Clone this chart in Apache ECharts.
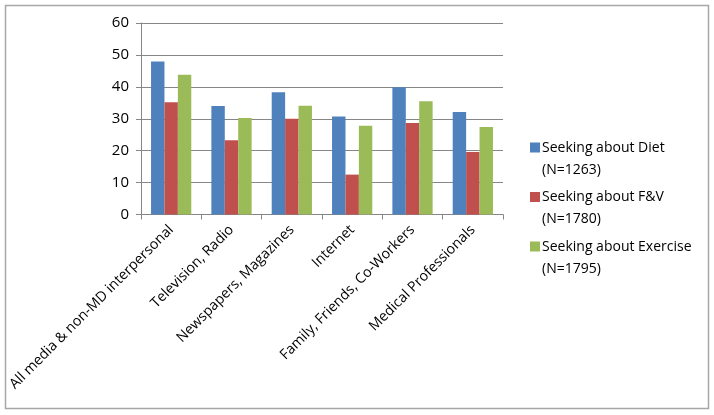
<!DOCTYPE html>
<html><head><meta charset="utf-8">
<script src="https://cdn.jsdelivr.net/npm/echarts@6/dist/echarts.min.js"></script>
<style>html,body{margin:0;padding:0;background:#fff}#c{width:714px;height:415px}</style>
</head><body><div id="c"></div>
<script>
const categories = ["All media & non-MD interpersonal","Television, Radio","Newspapers, Magazines","Internet","Family, Friends, Co-Workers","Medical Professionals"];
const seriesNames = ["Seeking about Diet\n(N=1263)","Seeking about F&V\n(N=1780)","Seeking about Exercise\n(N=1795)"];
const diet = [47.9, 34.0, 38.3, 30.7, 39.9, 32.1];
const fv = [35.2, 23.3, 30.0, 12.5, 28.7, 19.6];
const exercise = [43.8, 30.2, 34.1, 27.8, 35.5, 27.4];
const yTicks = {min: 0, max: 60, interval: 10};
const colors = ["#4F81BD","#C0504D","#9BBB59"];
const font = "Open Sans";
const chart = echarts.init(document.getElementById('c'));
const icon = 'path://M0,0L10,0L10,10L0,10Z M0,33L0,33Z';
const mk = (name, data, i) => ({name, type:'bar', data, barGap:'0%', barCategoryGap:'33.3%', itemStyle:{color:colors[i]}});
chart.setOption({
  animation:false,
  textStyle:{fontFamily:font},
  graphic:[{type:'rect', shape:{x:5.5,y:5.5,width:703,height:403}, style:{fill:null, stroke:'#a6a6a6', lineWidth:1.5}}],
  grid:{left:141, right:211, top:23, bottom:200.5},
  legend:{orient:'vertical', left:525, top:132, itemWidth:10, itemHeight:33, itemGap:5.5, icon:icon,
    textStyle:{fontFamily:font, fontSize:14, color:'#000', lineHeight:22, padding:[0,0,0,-3]},
    data:seriesNames},
  xAxis:{type:'category', data:categories,
    axisLine:{lineStyle:{color:'#868686'}},
    axisTick:{show:true, length:5, lineStyle:{color:'#868686'}},
    axisLabel:{rotate:45, interval:0, fontSize:14.2, color:'#000', margin:13, fontFamily:font}},
  yAxis:{type:'value', min:yTicks.min, max:yTicks.max, interval:yTicks.interval,
    axisLine:{show:true, lineStyle:{color:'#868686'}},
    axisTick:{show:true, length:5, lineStyle:{color:'#868686'}},
    splitLine:{lineStyle:{color:'#868686'}},
    axisLabel:{fontSize:15, color:'#000', margin:12, fontFamily:font}},
  series:[mk(seriesNames[0], diet, 0), mk(seriesNames[1], fv, 1), mk(seriesNames[2], exercise, 2)]
});
</script></body></html>
